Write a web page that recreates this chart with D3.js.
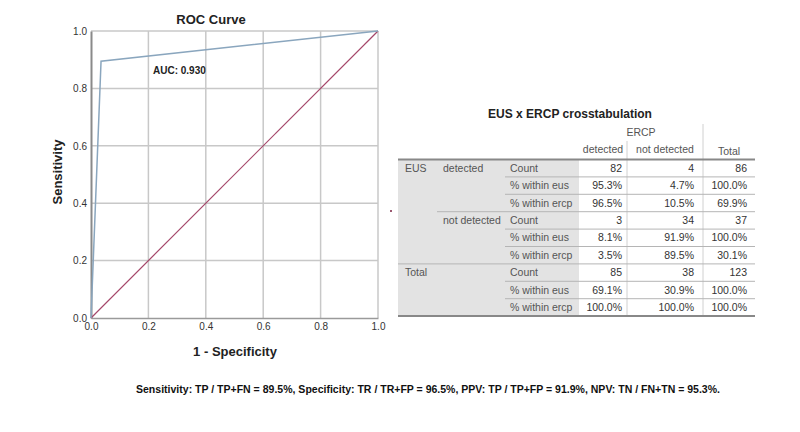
<!DOCTYPE html>
<html>
<head>
<meta charset="utf-8">
<script src="https://d3js.org/d3.v7.min.js"></script>
<style>
  body { margin: 0; background: #fff; }
  svg { font-family: "Liberation Sans", Arial, sans-serif; }
</style>
</head>
<body>
<div id="chart"></div>
<script>
// ROC data (1 - specificity, sensitivity)
const rocFpr = [0, 0.035, 1];
const rocTpr = [0, 0.895, 1];
const refFpr = [0, 1];
const refTpr = [0, 1];
const tickValues = [0, 0.2, 0.4, 0.6, 0.8, 1.0];
const aucLabel = "AUC: 0.930";

// Crosstab data
const ercpCols = ["detected", "not detected", "Total"];
const statLabels = ["Count", "% within eus", "% within ercp"];
const eusGroups = ["detected", "not detected", "Total"];
const eusDetected = [["82", "4", "86"], ["95.3%", "4.7%", "100.0%"], ["96.5%", "10.5%", "69.9%"]];
const eusNotDetected = [["3", "34", "37"], ["8.1%", "91.9%", "100.0%"], ["3.5%", "89.5%", "30.1%"]];
const eusTotal = [["85", "38", "123"], ["69.1%", "30.9%", "100.0%"], ["100.0%", "100.0%", "100.0%"]];

const footnote = "Sensitivity: TP / TP+FN = 89.5%, Specificity: TR / TR+FP = 96.5%, PPV: TP / TP+FP = 91.9%, NPV: TN / FN+TN = 95.3%.";

const W = 800, H = 432;
const svg = d3.select("#chart").append("svg")
    .attr("width", W)
    .attr("height", H);

// ---------- ROC plot ----------
const x = d3.scaleLinear().domain([0, 1]).range([91, 378]);
const y = d3.scaleLinear().domain([0, 1]).range([318, 31]);

// grid
svg.append("g").selectAll("line.vg")
    .data(tickValues.slice(1))
    .enter().append("line")
    .attr("x1", d => x(d)).attr("x2", d => x(d))
    .attr("y1", y(0)).attr("y2", y(1))
    .attr("stroke", "#c8c8c8").attr("stroke-width", 1.5);

svg.append("g").selectAll("line.hg")
    .data(tickValues.slice(1))
    .enter().append("line")
    .attr("x1", x(0)).attr("x2", x(1))
    .attr("y1", d => y(d)).attr("y2", d => y(d))
    .attr("stroke", "#c8c8c8").attr("stroke-width", 1.5);

// axes
const xAxis = svg.append("g")
    .attr("transform", `translate(0,${y(0)})`)
    .call(d3.axisBottom(x).tickValues(tickValues).tickFormat(d3.format(".1f")).tickSize(0).tickPadding(5));
xAxis.select(".domain").attr("stroke", "#9a9a9a").attr("stroke-width", 1.5);

const yAxis = svg.append("g")
    .attr("transform", `translate(${x(0)},0)`)
    .call(d3.axisLeft(y).tickValues(tickValues).tickFormat(d3.format(".1f")).tickSize(0).tickPadding(4));
yAxis.select(".domain").attr("stroke", "#8a8a8a").attr("stroke-width", 2);

svg.selectAll(".tick text")
    .attr("font-family", "Liberation Sans, Arial, sans-serif")
    .attr("font-size", 10)
    .attr("fill", "#333");

// lines
const line = d3.line().x(d => x(d[0])).y(d => y(d[1]));

svg.append("path")
    .datum(d3.zip(refFpr, refTpr))
    .attr("fill", "none")
    .attr("stroke", "#a5476a")
    .attr("stroke-width", 1.2)
    .attr("d", line);

svg.append("path")
    .datum(d3.zip(rocFpr, rocTpr))
    .attr("fill", "none")
    .attr("stroke", "#8aa6be")
    .attr("stroke-width", 1.5)
    .attr("d", line);

// labels
svg.append("text")
    .attr("x", 211).attr("y", 24)
    .attr("text-anchor", "middle")
    .attr("font-size", 13).attr("font-weight", "bold").attr("fill", "#222")
    .text("ROC Curve");

svg.append("text")
    .attr("x", 153).attr("y", 74)
    .attr("font-size", 10).attr("font-weight", "bold").attr("fill", "#222")
    .text(aucLabel);

svg.append("text")
    .attr("transform", "translate(62,172) rotate(-90)")
    .attr("text-anchor", "middle")
    .attr("font-size", 13).attr("font-weight", "bold").attr("fill", "#222")
    .text("Sensitivity");

svg.append("text")
    .attr("x", 235).attr("y", 356)
    .attr("text-anchor", "middle")
    .attr("font-size", 13).attr("font-weight", "bold").attr("fill", "#222")
    .text("1 - Specificity");

// stray dot
svg.append("circle")
    .attr("cx", 391).attr("cy", 211).attr("r", 1)
    .attr("fill", "#7a2040");

// ---------- Crosstab ----------
const tLeft = 398, tRight = 755;
const col = { g1: 405, g2: 443, stat: 505, shadeEnd: 579, c1: 627, c2: 703 };
const valRight = [622, 694, 747];
const headTop = 159.5, rowH = 17.4;
const allRows = [eusDetected, eusNotDetected, eusTotal];
const rowY = d3.scaleLinear().domain([0, 9]).range([headTop, headTop + 9 * rowH]);
const tFont = 10.5;

svg.append("text")
    .attr("x", 570).attr("y", 118)
    .attr("text-anchor", "middle")
    .attr("font-size", 12).attr("font-weight", "bold").attr("fill", "#222")
    .text("EUS x ERCP crosstabulation");

// shaded label area
svg.append("rect")
    .attr("x", tLeft).attr("y", rowY(0))
    .attr("width", col.shadeEnd - tLeft).attr("height", rowY(9) - rowY(0))
    .attr("fill", "#e3e3e3");

// header text
svg.append("text")
    .attr("x", (col.shadeEnd + col.c2) / 2).attr("y", 136)
    .attr("text-anchor", "middle").attr("font-size", tFont).attr("fill", "#555")
    .text("ERCP");

const headCenters = [(col.shadeEnd + col.c1) / 2, (col.c1 + col.c2) / 2, (col.c2 + tRight) / 2];
ercpCols.forEach((c, i) => {
    svg.append("text")
        .attr("x", headCenters[i]).attr("y", i === 2 ? 155 : 153)
        .attr("text-anchor", "middle").attr("font-size", tFont).attr("fill", "#555")
        .text(c);
});

// vertical separators
svg.append("line")
    .attr("x1", col.c1).attr("x2", col.c1)
    .attr("y1", 141).attr("y2", rowY(9))
    .attr("stroke", "#d0d0d0");
svg.append("line")
    .attr("x1", col.c2).attr("x2", col.c2)
    .attr("y1", 124).attr("y2", rowY(9))
    .attr("stroke", "#d0d0d0");

// row separators
for (let r = 1; r < 9; r++) {
    const startX = r % 3 !== 0 ? col.stat : (r === 3 ? col.g2 - 6 : tLeft);
    svg.append("line")
        .attr("x1", startX).attr("x2", tRight)
        .attr("y1", rowY(r)).attr("y2", rowY(r))
        .attr("stroke", "#b5b5b5").attr("stroke-width", 1);
}

// thick top/bottom
[0, 9].forEach(r => {
    svg.append("line")
        .attr("x1", tLeft).attr("x2", tRight)
        .attr("y1", rowY(r)).attr("y2", rowY(r))
        .attr("stroke", "#888").attr("stroke-width", 2);
});

// row labels and values
svg.append("text")
    .attr("x", col.g1).attr("y", rowY(0.5) + 3.5)
    .attr("font-size", tFont).attr("fill", "#555").text("EUS");

allRows.forEach((grp, g) => {
    const label = eusGroups[g];
    svg.append("text")
        .attr("x", g === 2 ? col.g1 : col.g2).attr("y", rowY(g * 3 + 0.5) + 3.5)
        .attr("font-size", tFont).attr("fill", "#555").text(label);
    grp.forEach((vals, s) => {
        const ry = rowY(g * 3 + s + 0.5) + 3.5;
        svg.append("text")
            .attr("x", col.stat + 5).attr("y", ry)
            .attr("font-size", tFont).attr("fill", "#555").text(statLabels[s]);
        vals.forEach((v, k) => {
            svg.append("text")
                .attr("x", valRight[k]).attr("y", ry)
                .attr("text-anchor", "end")
                .attr("font-size", tFont).attr("fill", "#333").text(v);
        });
    });
});

// footnote
svg.append("text")
    .attr("x", 136).attr("y", 393)
    .attr("font-family", "Liberation Sans Narrow, Arial Narrow, Liberation Sans, sans-serif")
    .attr("font-size", 11).attr("font-weight", "bold").attr("fill", "#111")
    .attr("textLength", 584).attr("lengthAdjust", "spacingAndGlyphs")
    .text(footnote);
</script>
</body>
</html>
